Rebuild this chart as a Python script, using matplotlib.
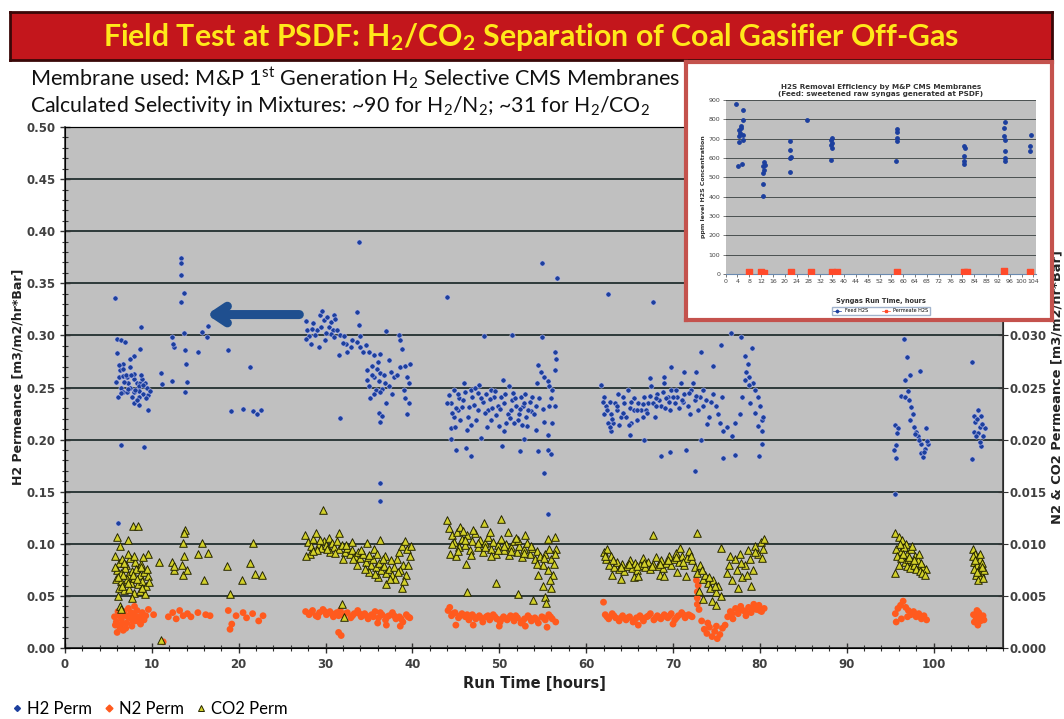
import numpy as np
import matplotlib
matplotlib.use('Agg')
import matplotlib.pyplot as plt
from matplotlib.lines import Line2D
from matplotlib.ticker import MultipleLocator, FormatStrFormatter

plt.rcParams['mathtext.default'] = 'regular'

# ---- main chart data ----
h2_t = [5.8, 6.0, 6.5, 6.9, 6.0, 8.7, 8.65, 7.9, 7.5, 6.7, 6.3, 6.7, 7.5, 6.2, 6.7, 7.1, 7.9, 7.3, 8.3, 8.65,
        9.2, 6.5, 7.5, 8.5, 9.4, 6.7, 7.1, 7.9, 8.5, 9.0, 9.6, 6.1, 8.5, 7.9, 8.5, 9.5, 7.0, 8.0, 8.9, 9.8,
        6.5, 9.1, 6.1,
        11.0, 11.2, 12.3, 12.5, 12.4, 12.3, 13.3, 13.3, 13.4, 13.7, 13.3, 13.7, 13.8, 13.95, 14.0, 13.8, 15.3,
        15.8, 16.3, 16.5, 18.8, 21.3, 19.1, 20.5, 21.6, 22.1, 22.6,
        27.7, 27.9, 28.1, 28.3, 27.8, 28.6, 29.0, 28.8, 29.4, 29.6, 29.8, 30.2, 30.4, 30.6, 30.8, 30.95, 31.1,
        31.3, 29.2, 29.9, 30.6, 31.7, 32.1, 32.3, 31.5, 32.5, 32.9, 33.6, 33.8, 34.0, 33.6, 34.0, 34.6, 35.0,
        35.6, 36.3, 36.9, 38.4, 38.6, 38.8, 38.6, 39.2, 39.7, 39.4, 39.6, 39.0, 39.2, 39.6, 39.4, 34.8, 35.4,
        35.9, 36.3, 35.6, 34.8, 36.1, 36.7, 37.3, 37.5, 37.9, 35.0, 35.8, 36.5, 37.3, 35.6, 36.3, 36.1, 36.5,
        36.3, 31.7, 36.3, 36.3, 33.8,
        44.0, 54.9, 56.6, 48.2, 51.5, 54.9, 56.4, 56.5, 56.4, 54.5, 54.8, 55.2, 55.6, 54.4, 55.7, 56.1,
        44.4, 45.0, 46.2, 46.7, 47.9, 50.3, 52.4, 52.9, 54.5, 55.6, 56.0, 55.2, 55.6,
        44.2, 44.4, 44.8, 45.4, 45.9, 46.1, 46.5, 44.8, 44.4, 45.5, 46.9, 47.3, 47.7, 48.1, 48.5, 48.7, 49.0,
        49.4, 49.8, 50.0, 50.4, 50.6, 51.0, 51.1, 51.5, 51.9, 52.1, 52.5, 52.7, 53.1, 53.2, 53.6, 54.2, 55.2,
        55.7, 56.1, 56.4, 55.6, 46.3, 47.5, 45.3, 44.0, 49.0, 49.6, 51.7, 50.8, 52.9, 53.8, 47.9, 46.7, 45.7,
        50.2, 52.3, 51.3, 54.2,
        62.5, 67.7, 76.7, 77.8, 75.5, 73.2, 74.6, 79.1, 78.3, 78.6, 78.4, 78.8, 79.2, 78.3, 79.4, 69.8, 71.3,
        72.7, 67.3, 69.0,
        65.1, 66.7, 68.6, 69.6, 71.5, 72.5, 73.2, 75.8, 77.1, 79.9, 80.3,
        61.7, 62.1, 62.3, 62.7, 62.9, 63.1, 62.9, 63.5, 64.0, 64.4, 64.8, 65.0, 65.5, 65.8, 66.3, 66.7, 67.1,
        67.5, 67.9, 68.2, 68.6, 69.0, 69.4, 69.8, 70.2, 70.5, 70.9, 71.3, 71.7, 72.1, 72.5, 72.9, 73.4, 73.8,
        74.2, 74.6, 75.0, 75.4, 75.6, 75.8, 76.8, 77.1, 77.7, 77.9, 78.7, 79.8, 80.0, 80.2, 79.8, 80.2, 63.7,
        65.5, 67.7, 69.2, 63.3, 64.2, 66.0, 66.5, 68.0, 69.6, 70.0, 71.1, 72.3, 73.1, 62.1, 62.5, 63.8, 64.6,
        65.2, 66.9, 68.4,
        96.6, 97.0, 98.4, 97.3, 96.7, 97.1, 96.3, 96.7, 97.2, 97.4, 97.6, 97.3, 97.8, 98.0, 98.2, 98.6, 99.0,
        98.6, 98.8, 99.4, 99.1, 95.6, 95.9, 95.8, 95.7, 95.5, 95.7, 95.6, 97.9, 98.3, 99.2, 98.9,
        104.4, 105.1, 105.5, 104.6, 104.8, 105.3, 104.6, 105.1, 105.9, 105.7, 104.9, 105.5, 105.3, 104.4,
        105.0, 105.6,
        6.2, 6.8, 7.2, 7.6, 8.1, 8.8, 9.3, 6.4, 7.7, 8.3, 9.0, 5.9,
        28.4, 29.5, 30.0, 31.0, 32.0, 33.0, 34.3, 35.3, 36.0, 36.8, 37.6, 38.2, 35.1, 37.0,
        44.6, 45.2, 45.8, 46.4, 47.1, 47.6, 48.3, 48.9, 49.5, 50.1, 50.7, 51.2, 51.8, 52.4, 53.0, 53.5, 54.0,
        54.6, 55.0, 45.0, 46.8, 48.6, 50.5, 52.6, 49.2, 51.6, 47.2, 53.3, 44.9, 55.9,
        62.4, 63.0, 63.6, 64.3, 65.2, 65.9, 66.6, 67.3, 68.0, 68.8, 69.5, 70.3, 71.0, 71.8, 72.6, 73.5, 74.4,
        61.9, 62.7, 64.9, 67.0, 69.1, 70.7, 72.0, 73.9, 75.2, 76.2, 78.9, 79.5, 80.4]
h2_v = [0.336, 0.297, 0.296, 0.294, 0.283, 0.308, 0.287, 0.280, 0.277, 0.273, 0.267, 0.268, 0.270, 0.260,
        0.261, 0.260, 0.258, 0.254, 0.254, 0.254, 0.254, 0.250, 0.250, 0.251, 0.250, 0.246, 0.246, 0.246,
        0.247, 0.244, 0.243, 0.241, 0.241, 0.235, 0.233, 0.228, 0.262, 0.263, 0.258, 0.247, 0.195, 0.193,
        0.120,
        0.264, 0.253, 0.298, 0.289, 0.292, 0.256, 0.374, 0.369, 0.358, 0.341, 0.332, 0.302, 0.286, 0.273,
        0.255, 0.246, 0.284, 0.303, 0.298, 0.309, 0.286, 0.270, 0.227, 0.229, 0.227, 0.225, 0.228,
        0.314, 0.305, 0.299, 0.292, 0.297, 0.312, 0.305, 0.300, 0.320, 0.323, 0.315, 0.318, 0.308, 0.313,
        0.305, 0.320, 0.316, 0.305, 0.289, 0.296, 0.301, 0.300, 0.299, 0.292, 0.281, 0.284, 0.289, 0.322,
        0.310, 0.299, 0.294, 0.289, 0.291, 0.284, 0.281, 0.282, 0.304, 0.300, 0.296, 0.287, 0.270, 0.271,
        0.273, 0.260, 0.254, 0.248, 0.240, 0.235, 0.225, 0.267, 0.271, 0.268, 0.264, 0.260, 0.257, 0.256,
        0.262, 0.276, 0.265, 0.260, 0.251, 0.248, 0.249, 0.251, 0.244, 0.246, 0.226, 0.223, 0.217, 0.221,
        0.158, 0.141, 0.390,
        0.337, 0.369, 0.355, 0.299, 0.300, 0.298, 0.284, 0.277, 0.267, 0.272, 0.265, 0.260, 0.256, 0.254,
        0.251, 0.248,
        0.201, 0.190, 0.192, 0.184, 0.202, 0.194, 0.189, 0.201, 0.189, 0.190, 0.186, 0.168, 0.129,
        0.243, 0.235, 0.248, 0.240, 0.254, 0.246, 0.231, 0.222, 0.211, 0.219, 0.241, 0.219, 0.252, 0.236,
        0.244, 0.228, 0.219, 0.241, 0.232, 0.213, 0.257, 0.235, 0.225, 0.251, 0.238, 0.232, 0.219, 0.241,
        0.232, 0.222, 0.213, 0.227, 0.209, 0.217, 0.232, 0.216, 0.232, 0.204, 0.209, 0.228, 0.228, 0.235,
        0.248, 0.224, 0.216, 0.216, 0.235, 0.241, 0.240, 0.248, 0.231, 0.241, 0.225, 0.228, 0.232,
        0.340, 0.332, 0.302, 0.298, 0.291, 0.284, 0.271, 0.288, 0.280, 0.273, 0.265, 0.260, 0.254, 0.257,
        0.248, 0.270, 0.265, 0.265, 0.259, 0.260,
        0.204, 0.200, 0.184, 0.188, 0.190, 0.170, 0.200, 0.182, 0.185, 0.184, 0.196,
        0.252, 0.241, 0.232, 0.236, 0.225, 0.216, 0.208, 0.228, 0.222, 0.235, 0.248, 0.230, 0.240, 0.219,
        0.228, 0.241, 0.235, 0.251, 0.222, 0.244, 0.232, 0.254, 0.241, 0.248, 0.235, 0.241, 0.254, 0.244,
        0.232, 0.248, 0.238, 0.228, 0.248, 0.238, 0.222, 0.244, 0.232, 0.216, 0.241, 0.208, 0.203, 0.216,
        0.225, 0.241, 0.252, 0.241, 0.232, 0.219, 0.213, 0.208, 0.244, 0.228, 0.235, 0.240, 0.235, 0.241,
        0.235, 0.222, 0.232, 0.228, 0.241, 0.236, 0.254, 0.241, 0.225, 0.216, 0.214, 0.222, 0.216, 0.228,
        0.238,
        0.297, 0.279, 0.266, 0.262, 0.257, 0.247, 0.242, 0.241, 0.238, 0.231, 0.225, 0.219, 0.212, 0.207,
        0.203, 0.196, 0.191, 0.187, 0.183, 0.196, 0.211, 0.214, 0.211, 0.206, 0.195, 0.190, 0.182, 0.148,
        0.205, 0.200, 0.199, 0.188,
        0.274, 0.228, 0.223, 0.223, 0.217, 0.212, 0.207, 0.206, 0.211, 0.203, 0.203, 0.194, 0.198, 0.181,
        0.220, 0.215,
        0.272, 0.255, 0.249, 0.262, 0.248, 0.262, 0.240, 0.245, 0.241, 0.238, 0.252, 0.255,
        0.306, 0.308, 0.302, 0.298, 0.293, 0.296, 0.284, 0.262, 0.274, 0.254, 0.244, 0.262, 0.240, 0.235,
        0.226, 0.244, 0.238, 0.222, 0.233, 0.245, 0.226, 0.239, 0.247, 0.229, 0.244, 0.221, 0.240, 0.229,
        0.244, 0.236, 0.225, 0.240, 0.229, 0.230, 0.214, 0.212, 0.208, 0.214, 0.230, 0.245, 0.250, 0.228,
        0.212, 0.240,
        0.228, 0.220, 0.232, 0.226, 0.236, 0.228, 0.234, 0.242, 0.240, 0.246, 0.236, 0.248, 0.238, 0.245,
        0.242, 0.232, 0.236, 0.236, 0.212, 0.214, 0.226, 0.230, 0.230, 0.225, 0.215, 0.225, 0.212, 0.235,
        0.226, 0.222]

n2_t = [5.7, 5.9, 6.1, 6.3, 6.5, 6.7, 6.9, 7.1, 7.3, 7.5, 7.7, 7.9, 8.1, 8.3, 8.5, 8.7, 8.9, 9.1, 9.3, 6.0,
        7.0, 8.0, 9.6, 10.2,
        11.3, 11.9, 12.4, 12.8, 13.2, 13.6, 14.1, 14.5, 15.3, 16.2, 16.7, 18.8, 19.2, 19.7, 20.5, 20.9, 21.6,
        22.3, 22.8, 19.0,
        27.7, 28.1, 28.5, 28.9, 29.3, 29.7, 30.1, 30.5, 30.9, 31.3, 31.7, 32.1, 32.5, 32.9, 33.3, 33.7, 34.1,
        34.5, 34.9, 35.3, 35.7, 36.1, 36.5, 36.9, 37.3, 37.7, 38.1, 38.5, 38.9, 39.3, 39.7, 31.5, 31.8, 37.0,
        38.6, 36.0,
        44.1, 44.5, 44.9, 45.3, 45.7, 46.1, 46.5, 46.9, 47.3, 47.7, 48.1, 48.5, 48.9, 49.3, 49.7, 50.1, 50.5,
        50.9, 51.3, 51.7, 52.1, 52.5, 52.9, 53.3, 53.7, 54.1, 54.5, 54.9, 55.3, 55.7, 56.1, 56.5, 44.3, 45.0,
        47.0, 50.0, 53.0, 55.5,
        62.0, 62.2, 62.6, 63.0, 63.4, 63.8, 64.2, 64.6, 65.0, 65.4, 65.8, 66.2, 66.6, 67.0, 67.4, 67.8, 68.2,
        68.6, 69.0, 69.4, 69.8, 70.2, 70.6, 71.0, 71.4, 71.8, 72.2, 72.8, 72.8, 72.8, 72.9, 72.7, 73.0, 73.3,
        73.6, 73.9, 74.2, 74.5, 74.8, 75.1, 75.4, 75.7, 76.0, 74.0, 75.0, 76.3, 76.6, 76.9, 77.2, 77.5, 77.8,
        78.1, 78.4, 78.7, 79.0, 79.3, 79.6, 79.9, 80.2, 80.5, 66.0, 70.0,
        95.6, 95.9, 96.2, 96.5, 96.8, 97.1, 97.4, 97.7, 98.0, 98.3, 98.6, 98.9, 99.2, 95.7, 96.3, 97.0,
        104.6, 104.9, 105.2, 105.5, 105.8, 104.7, 105.1, 105.4, 105.7, 105.0,
        5.8, 6.2, 6.6, 7.2, 7.6, 8.2, 8.6, 9.0, 6.8, 7.8,
        28.3, 29.1, 29.9, 30.7, 31.5, 32.3, 33.1, 33.9, 34.7, 35.5, 36.3, 37.1, 37.9, 38.7, 39.5,
        44.7, 45.5, 46.3, 47.1, 47.9, 48.7, 49.5, 50.3, 51.1, 51.9, 52.7, 53.5, 54.3, 55.1, 55.9,
        62.4, 63.2, 64.0, 64.8, 65.6, 66.4, 67.2, 68.0, 68.8, 69.6, 70.4, 71.2, 72.0, 76.8, 77.6, 78.4, 79.2,
        80.0]
n2_v = [0.0030, 0.0025, 0.0035, 0.0020, 0.0028, 0.0017, 0.0032, 0.0024, 0.0038, 0.0029, 0.0021, 0.0033,
        0.0026, 0.0036, 0.0030, 0.0023, 0.0034, 0.0027, 0.0031, 0.0015, 0.0019, 0.0040, 0.0037, 0.0032,
        0.0006, 0.0030, 0.0034, 0.0028, 0.0036, 0.0031, 0.0033, 0.0030, 0.0034, 0.0032, 0.0031, 0.0036,
        0.0023, 0.0031, 0.0034, 0.0029, 0.0033, 0.0026, 0.0031, 0.0018,
        0.0035, 0.0032, 0.0036, 0.0031, 0.0034, 0.0037, 0.0032, 0.0035, 0.0030, 0.0034, 0.0036, 0.0031,
        0.0034, 0.0029, 0.0033, 0.0036, 0.0030, 0.0033, 0.0028, 0.0032, 0.0035, 0.0029, 0.0032, 0.0027,
        0.0031, 0.0034, 0.0028, 0.0030, 0.0025, 0.0032, 0.0029, 0.0015, 0.0012, 0.0022, 0.0021, 0.0024,
        0.0036, 0.0031, 0.0034, 0.0029, 0.0033, 0.0030, 0.0027, 0.0032, 0.0028, 0.0031, 0.0025, 0.0030,
        0.0027, 0.0032, 0.0028, 0.0025, 0.0030, 0.0027, 0.0031, 0.0026, 0.0029, 0.0024, 0.0028, 0.0031,
        0.0026, 0.0029, 0.0024, 0.0030, 0.0027, 0.0032, 0.0028, 0.0025, 0.0039, 0.0022, 0.0022, 0.0021,
        0.0021, 0.0020,
        0.0044, 0.0032, 0.0028, 0.0033, 0.0029, 0.0026, 0.0031, 0.0027, 0.0030, 0.0025, 0.0029, 0.0031,
        0.0026, 0.0030, 0.0033, 0.0027, 0.0031, 0.0028, 0.0032, 0.0029, 0.0033, 0.0027, 0.0031, 0.0034,
        0.0029, 0.0032, 0.0030, 0.0042, 0.0048, 0.0054, 0.0060, 0.0065, 0.0037, 0.0026, 0.0018, 0.0014,
        0.0020, 0.0011, 0.0016, 0.0009, 0.0013, 0.0019, 0.0022, 0.0024, 0.0021, 0.0030, 0.0035, 0.0028,
        0.0038, 0.0033, 0.0040, 0.0036, 0.0031, 0.0039, 0.0034, 0.0042, 0.0037, 0.0041, 0.0035, 0.0038,
        0.0022, 0.0023,
        0.0033, 0.0038, 0.0041, 0.0045, 0.0039, 0.0036, 0.0032, 0.0035, 0.0030, 0.0033, 0.0028, 0.0031,
        0.0027, 0.0025, 0.0028, 0.0030,
        0.0032, 0.0029, 0.0034, 0.0030, 0.0027, 0.0025, 0.0022, 0.0026, 0.0031, 0.0036,
        0.0022, 0.0031, 0.0024, 0.0030, 0.0034, 0.0029, 0.0025, 0.0031, 0.0035, 0.0026,
        0.0034, 0.0030, 0.0035, 0.0033, 0.0031, 0.0033, 0.0031, 0.0033, 0.0031, 0.0030, 0.0034, 0.0030,
        0.0031, 0.0028, 0.0030,
        0.0033, 0.0031, 0.0032, 0.0030, 0.0029, 0.0031, 0.0030, 0.0028, 0.0029, 0.0031, 0.0026, 0.0029,
        0.0027, 0.0029, 0.0030,
        0.0030, 0.0031, 0.0029, 0.0029, 0.0027, 0.0029, 0.0031, 0.0029, 0.0030, 0.0031, 0.0029, 0.0032,
        0.0031, 0.0033, 0.0036, 0.0034, 0.0038, 0.0036]

co2_t = [6.0, 7.3, 6.3, 7.8, 8.45, 9.5, 5.8, 6.2, 6.6, 7.0, 7.5, 8.1, 8.7, 9.0, 6.0, 6.4, 6.9, 7.3, 7.7, 8.2,
         8.6, 9.1, 9.5, 5.9, 6.5, 7.1, 7.6, 8.0, 8.4, 8.9, 9.3, 9.7, 6.2, 6.8, 7.4, 7.9, 8.6, 9.2, 6.1, 7.7,
         6.3, 6.5, 8.8, 7.2, 6.7,
         13.8, 13.7, 13.6, 15.8, 21.7, 15.3, 16.5, 10.8, 12.3, 12.5, 13.7, 13.5, 13.6, 18.7, 21.3, 21.9, 22.7,
         20.4, 16.0, 19.0, 11.0, 12.6, 14.0,
         29.7, 27.6, 28.0, 28.3, 28.6, 28.9, 29.2, 29.5, 29.8, 30.1, 30.4, 30.7, 31.0, 31.3, 31.6, 31.9, 32.2,
         32.5, 32.8, 33.1, 33.4, 33.7, 34.0, 34.3, 34.6, 34.9, 35.2, 35.5, 35.8, 36.1, 36.4, 36.7, 37.0, 37.3,
         37.6, 37.9, 38.2, 38.5, 38.8, 39.1, 39.4, 39.7, 38.9, 38.6, 39.3, 34.8, 35.6, 36.3, 33.0, 31.5, 28.2,
         27.8, 32.0, 35.0, 36.0, 37.0, 38.8, 36.8, 37.5, 31.9, 32.1, 30.5, 29.0, 33.6, 34.5, 35.9, 38.0, 39.0,
         44.2, 44.5, 44.8, 45.1, 45.4, 45.7, 46.0, 46.3, 46.6, 46.9, 47.2, 47.5, 47.8, 48.1, 48.4, 48.7, 49.0,
         49.3, 49.6, 49.9, 50.2, 50.5, 50.8, 51.1, 51.4, 51.7, 52.0, 52.3, 52.6, 52.9, 53.2, 53.5, 53.8, 54.1,
         54.4, 54.7, 55.0, 55.3, 55.6, 55.9, 56.2, 56.5, 44.3, 45.0, 46.2, 49.6, 46.3, 52.1, 53.9, 55.3, 55.0,
         55.8, 54.5, 44.0, 48.2, 50.2, 55.6, 56.4, 45.5, 47.0, 51.0, 53.0, 56.0, 55.4, 56.3,
         62.0, 62.3, 62.6, 62.9, 63.2, 63.5, 63.8, 64.1, 64.4, 64.7, 65.0, 65.3, 65.6, 65.9, 66.2, 66.5, 66.8,
         67.1, 67.4, 67.7, 68.0, 68.3, 68.6, 68.9, 69.2, 69.5, 69.8, 70.1, 70.4, 70.7, 71.0, 71.3, 71.6, 71.9,
         72.2, 72.5, 72.8, 73.1, 73.4, 73.7, 74.0, 74.3, 74.6, 74.9, 75.2, 75.5, 74.5, 73.5, 75.0, 73.0, 67.7,
         72.8, 75.5, 76.2, 76.5, 76.8, 77.1, 77.4, 77.7, 78.0, 78.3, 78.6, 78.9, 79.2, 79.5, 79.8, 80.1, 80.4,
         80.5, 79.0, 77.5, 63.0, 65.5, 68.5, 70.5, 64.0, 66.0, 69.0, 71.5, 62.4, 70.8,
         95.6, 96.0, 96.4, 96.8, 95.7, 96.2, 96.6, 97.0, 97.4, 95.8, 96.3, 96.7, 97.1, 97.5, 97.9, 98.2, 98.5,
         98.8, 99.1, 96.9, 97.3, 97.7, 98.0, 98.4, 98.7, 99.0, 95.6, 97.5, 98.3,
         104.5, 104.8, 105.1, 105.4, 104.6, 105.0, 105.3, 105.6, 104.7, 105.2, 105.5, 104.9, 105.4, 105.1,
         105.7, 104.5, 105.8,
         5.7, 6.1, 6.6, 7.2, 7.8, 8.3, 8.9, 9.4, 6.8, 8.0,
         28.5, 29.4, 30.2, 31.1, 32.3, 33.2, 34.1, 35.0, 35.7, 36.6, 37.4, 38.3, 39.5, 39.8,
         44.6, 45.3, 46.1, 46.8, 47.6, 48.3, 49.1, 49.8, 50.6, 51.3, 52.1, 52.8, 53.6, 54.3, 55.1, 55.7, 56.4,
         45.8, 48.9, 51.9,
         62.2, 63.1, 64.0, 64.9, 65.8, 66.7, 67.6, 68.5, 69.4, 70.3, 71.2, 72.1, 73.3, 74.2, 74.8, 76.6, 77.8,
         78.5, 79.4, 80.2,
         96.1, 96.5, 97.2, 97.8, 98.6, 96.0,
         104.8, 105.3, 105.0, 105.6]
co2_v = [0.0107, 0.0104, 0.0098, 0.0117, 0.0117, 0.0090, 0.0088, 0.0082, 0.0085, 0.0080, 0.0086, 0.0083,
         0.0081, 0.0087, 0.0075, 0.0072, 0.0077, 0.0070, 0.0074, 0.0076, 0.0070, 0.0073, 0.0069, 0.0066,
         0.0064, 0.0066, 0.0062, 0.0067, 0.0061, 0.0064, 0.0060, 0.0063, 0.0058, 0.0056, 0.0057, 0.0053,
         0.0055, 0.0052, 0.0050, 0.0048, 0.0040, 0.0037, 0.0078, 0.0090, 0.0070,
         0.0113, 0.0110, 0.0101, 0.0101, 0.0101, 0.0090, 0.0091, 0.0083, 0.0083, 0.0075, 0.0088, 0.0080,
         0.0070, 0.0079, 0.0082, 0.0071, 0.0070, 0.0065, 0.0065, 0.0052, 0.0008, 0.0079, 0.0075,
         0.0132, 0.0108, 0.0102, 0.0098, 0.0105, 0.0110, 0.0100, 0.0096, 0.0103, 0.0099, 0.0106, 0.0101,
         0.0097, 0.0103, 0.0095, 0.0099, 0.0092, 0.0096, 0.0090, 0.0094, 0.0088, 0.0092, 0.0086, 0.0090,
         0.0083, 0.0087, 0.0080, 0.0085, 0.0078, 0.0082, 0.0075, 0.0079, 0.0072, 0.0076, 0.0070, 0.0078,
         0.0085, 0.0092, 0.0098, 0.0103, 0.0095, 0.0088, 0.0080, 0.0075, 0.0070, 0.0101, 0.0095, 0.0104,
         0.0102, 0.0110, 0.0090, 0.0088, 0.0085, 0.0073, 0.0068, 0.0061, 0.0058, 0.0088, 0.0084, 0.0042,
         0.0030, 0.0092, 0.0094, 0.0080, 0.0076, 0.0090, 0.0066, 0.0064,
         0.0115, 0.0108, 0.0102, 0.0111, 0.0097, 0.0105, 0.0099, 0.0108, 0.0094, 0.0103, 0.0110, 0.0097,
         0.0104, 0.0092, 0.0101, 0.0107, 0.0095, 0.0102, 0.0090, 0.0099, 0.0105, 0.0094, 0.0100, 0.0089,
         0.0097, 0.0103, 0.0092, 0.0098, 0.0087, 0.0095, 0.0101, 0.0090, 0.0096, 0.0085, 0.0093, 0.0088,
         0.0080, 0.0090, 0.0075, 0.0085, 0.0070, 0.0095, 0.0090, 0.0088, 0.0081, 0.0062, 0.0054, 0.0052,
         0.0046, 0.0049, 0.0060, 0.0065, 0.0070, 0.0123, 0.0120, 0.0124, 0.0105, 0.0107, 0.0116, 0.0113,
         0.0111, 0.0108, 0.0058, 0.0043, 0.0081,
         0.0092, 0.0085, 0.0080, 0.0088, 0.0078, 0.0083, 0.0076, 0.0081, 0.0074, 0.0079, 0.0084, 0.0077,
         0.0082, 0.0075, 0.0080, 0.0086, 0.0078, 0.0083, 0.0076, 0.0081, 0.0087, 0.0079, 0.0084, 0.0077,
         0.0082, 0.0088, 0.0080, 0.0085, 0.0091, 0.0083, 0.0088, 0.0080, 0.0086, 0.0093, 0.0084, 0.0078,
         0.0072, 0.0080, 0.0066, 0.0070, 0.0062, 0.0058, 0.0065, 0.0054, 0.0060, 0.0050, 0.0045, 0.0047,
         0.0041, 0.0055, 0.0108, 0.0110, 0.0096, 0.0072, 0.0080, 0.0065, 0.0085, 0.0075, 0.0090, 0.0068,
         0.0080, 0.0094, 0.0085, 0.0075, 0.0098, 0.0090, 0.0102, 0.0095, 0.0105, 0.0060, 0.0058, 0.0070,
         0.0068, 0.0070, 0.0073, 0.0066, 0.0069, 0.0069, 0.0069, 0.0095, 0.0096,
         0.0110, 0.0107, 0.0104, 0.0100, 0.0095, 0.0093, 0.0097, 0.0090, 0.0095, 0.0088, 0.0086, 0.0083,
         0.0085, 0.0082, 0.0088, 0.0084, 0.0080, 0.0078, 0.0076, 0.0079, 0.0077, 0.0080, 0.0076, 0.0074,
         0.0072, 0.0070, 0.0072, 0.0098, 0.0090,
         0.0095, 0.0090, 0.0087, 0.0085, 0.0083, 0.0080, 0.0078, 0.0082, 0.0076, 0.0074, 0.0072, 0.0070,
         0.0068, 0.0065, 0.0067, 0.0088, 0.0075,
         0.0078, 0.0068, 0.0060, 0.0062, 0.0070, 0.0066, 0.0058, 0.0076, 0.0082, 0.0088,
         0.0093, 0.0104, 0.0095, 0.0091, 0.0099, 0.0085, 0.0094, 0.0089, 0.0071, 0.0085, 0.0066, 0.0073,
         0.0080, 0.0098,
         0.0100, 0.0093, 0.0104, 0.0089, 0.0101, 0.0097, 0.0088, 0.0094, 0.0098, 0.0093, 0.0104, 0.0091,
         0.0098, 0.0081, 0.0086, 0.0095, 0.0090, 0.0112, 0.0111, 0.0106,
         0.0088, 0.0084, 0.0078, 0.0081, 0.0079, 0.0082, 0.0079, 0.0081, 0.0084, 0.0087, 0.0083, 0.0088,
         0.0075, 0.0068, 0.0060, 0.0088, 0.0082, 0.0070, 0.0092, 0.0086,
         0.0100, 0.0090, 0.0087, 0.0084, 0.0082, 0.0080,
         0.0084, 0.0090, 0.0073, 0.0078]

# ---- inset (H2S) data ----
feed_t = [3.6, 5.7, 5.7, 5.1, 5.1, 4.5, 5.7, 4.5, 5.9, 4.5, 4.3, 5.5, 4.8,
          13.1, 12.5, 13.1, 12.7, 12.5, 12.5, 13.4,
          21.9, 21.9, 21.9, 22.1, 21.9, 27.6,
          35.8, 35.8, 35.8, 35.5, 35.5, 35.7,
          58.0, 58.0, 58.0, 58.0, 57.7,
          80.5, 80.9, 80.5, 80.5, 80.5,
          94.3, 94.1, 94.1, 94.3, 94.3, 94.3, 94.3,
          103.2, 102.8, 102.8]
feed_v = [877, 846, 794, 764, 756, 747, 721, 712, 695, 681, 556, 568, 730,
          577, 560, 539, 522, 466, 404, 565,
          690, 640, 598, 605, 529, 794,
          704, 678, 652, 691, 591, 665,
          750, 733, 704, 686, 582,
          660, 652, 612, 582, 570,
          785, 756, 712, 695, 634, 600, 582,
          721, 664, 634]
perm_t = [8, 12, 13, 22, 29, 36, 37.5, 58, 80.5, 81.5, 94, 103]
perm_v = [12, 8, 6, 10, 12, 9, 10, 8, 9, 9, 13, 8]

H2_COLOR = '#1c3f9e'
N2_COLOR = '#ff5a1e'
CO2_COLOR = '#d2d02a'
GRID = '#2e3a3a'
TICK_FONT = {'family': 'DejaVu Sans', 'weight': 'bold', 'size': 8.5}

fig = plt.figure(figsize=(10.64, 7.19), dpi=100)

# title banner
banner = fig.add_axes([0.0094, 0.9166, 0.9793, 0.0667])
banner.set_facecolor('#c3161c')
banner.set_xticks([]); banner.set_yticks([])
for s in banner.spines.values():
    s.set_color('#3a0808'); s.set_linewidth(2)
banner.text(0.5, 0.48, r'Field Test at PSDF: H$_2$/CO$_2$ Separation of Coal Gasifier Off-Gas',
            ha='center', va='center', color='#ffe81a', fontsize=21.8, fontweight='bold', family='Lato')

fig.text(0.028, 0.891, r'Membrane used: M&P 1$^{st}$ Generation H$_2$ Selective CMS Membranes',
         ha='left', va='center', fontsize=15.6, family='Lato', color='#111111')
fig.text(0.028, 0.853, r'Calculated Selectivity in Mixtures: ~90 for H$_2$/N$_2$; ~31 for H$_2$/CO$_2$',
         ha='left', va='center', fontsize=15.3, family='Lato', color='#111111')

# main plot
ax = fig.add_axes([0.0611, 0.0987, 0.8816, 0.7247])
ax.set_facecolor('#c0c0c0')
ax.set_xlim(0, 108)
ax.set_ylim(0, 0.5)
ax.xaxis.set_major_locator(MultipleLocator(10))
ax.xaxis.set_minor_locator(MultipleLocator(2))
ax.yaxis.set_major_locator(MultipleLocator(0.05))
ax.yaxis.set_minor_locator(MultipleLocator(0.01))
ax.yaxis.set_major_formatter(FormatStrFormatter('%.2f'))
ax.yaxis.grid(True, color=GRID, lw=1.4)
ax.set_axisbelow(True)
ax.tick_params(which='both', direction='inout', colors='#333333')
ax.tick_params(which='major', length=7, width=1)
ax.tick_params(which='minor', length=4, width=0.8)
for lab in ax.get_xticklabels() + ax.get_yticklabels():
    lab.set_fontproperties(TICK_FONT); lab.set_color('#404040')
for s in ['left', 'bottom']:
    ax.spines[s].set_color('#333333'); ax.spines[s].set_linewidth(1.2)
ax.spines['top'].set_color(GRID)
ax.set_xlabel('Run Time [hours]', fontsize=10.5, fontweight='bold', color='#222222', labelpad=4)
ax.set_ylabel('H2 Permeance [m3/m2/hr*Bar]', fontsize=9, fontweight='bold', color='#222222')
ax.yaxis.set_label_coords(-0.043, 0.52)

ax.scatter(h2_t, h2_v, s=14, c=H2_COLOR, edgecolors='#c8c8f0', linewidths=0.4, zorder=3)

ax.annotate('', xy=(16.0, 0.320), xytext=(27.3, 0.320),
            arrowprops=dict(arrowstyle='->, head_length=0.9, head_width=0.6', lw=6.5, color='#1f4f8f'),
            zorder=4)

ax2 = ax.twinx()
ax2.set_ylim(0, 0.05)
ax2.yaxis.set_major_locator(MultipleLocator(0.005))
ax2.yaxis.set_major_formatter(FormatStrFormatter('%.3f'))
ax2.tick_params(direction='inout', length=7, colors='#333333', pad=1.5)
for lab in ax2.get_yticklabels():
    lab.set_fontproperties(TICK_FONT); lab.set_color('#404040')
    # labels above 0.030 sit under the inset in the picture
    if lab.get_position()[1] > 0.0301:
        lab.set_visible(False)
ax2.spines['right'].set_color('#333333'); ax2.spines['right'].set_linewidth(1.2)
ax2.set_ylabel('N2 & CO2 Permeance [m3/m2/hr*Bar]', fontsize=9.4, fontweight='bold', color='#222222',
               labelpad=2)

ax2.scatter(n2_t, n2_v, s=24, c=N2_COLOR, edgecolors='none', marker='o', zorder=3)
ax2.scatter(co2_t, co2_v, s=30, c=CO2_COLOR, edgecolors='#262600', linewidths=0.7, marker='^', zorder=4)

handles = [Line2D([], [], ls='none', marker='D', ms=3, color=H2_COLOR),
           Line2D([], [], ls='none', marker='D', ms=3.5, color=N2_COLOR),
           Line2D([], [], ls='none', marker='^', ms=5, mfc=CO2_COLOR, mec='#262600', mew=0.7)]
fig.legend(handles, ['H2 Perm', 'N2 Perm', 'CO2 Perm'], loc='center left', bbox_to_anchor=(-0.004, 0.014),
           ncol=3, frameon=False, handlelength=0.8, handletextpad=0.2, columnspacing=0.6,
           prop={'family': 'Lato', 'size': 12})

# inset with H2S removal chart
box = fig.add_axes([0.645, 0.555, 0.344, 0.359], zorder=10)
box.set_facecolor('white')
box.set_xticks([]); box.set_yticks([])
for s in box.spines.values():
    s.set_color('#c4524d'); s.set_linewidth(3)

ins = fig.add_axes([0.682, 0.619, 0.292, 0.242], zorder=11)
ins.set_facecolor('#c0c0c0')
ins.set_xlim(0, 105)
ins.set_ylim(0, 900)
ins.set_xticks(np.arange(0, 105, 4))
ins.set_yticks(np.arange(0, 901, 100))
ins.yaxis.grid(True, color='#4a5050', lw=0.7)
ins.set_axisbelow(True)
ins.tick_params(labelsize=4.5, length=2, width=0.5, colors='#444444', pad=2)
for s in ins.spines.values():
    s.set_visible(False)
ins.spines['bottom'].set_visible(True); ins.spines['bottom'].set_color('#6a8ab0')
ins.scatter(feed_t, feed_v, s=6, c='#1c3f9e', zorder=3)
ins.scatter(perm_t, perm_v, s=18, c='#ff4a2a', marker='s', zorder=3)
ins.set_title('H2S Removal Efficiency by M&P CMS Membranes\n(Feed: sweetened raw syngas generated at PSDF)',
              fontsize=5.2, fontweight='bold', color='#333333', pad=3, linespacing=1.1)
ins.set_xlabel('Syngas Run Time, hours', fontsize=4.8, fontweight='bold', color='#333333', labelpad=10)
ins.set_ylabel('ppm level H2S Concentration', fontsize=4.5, fontweight='bold', color='#333333', labelpad=2)
lh = [Line2D([], [], ls='-', lw=0.5, marker='D', ms=1.5, color='#1c3f9e'),
      Line2D([], [], ls='-', lw=0.5, marker='s', ms=2, color='#ff4a2a')]
ins.legend(lh, ['Feed H2S', 'Permeate H2S'], loc='upper center', bbox_to_anchor=(0.5, -0.175), ncol=2,
           fontsize=3.5, frameon=True, edgecolor='#8aa0c0', fancybox=False, handlelength=1.5,
           columnspacing=3, borderpad=0.3)

fig.savefig('out.png', dpi=100)
